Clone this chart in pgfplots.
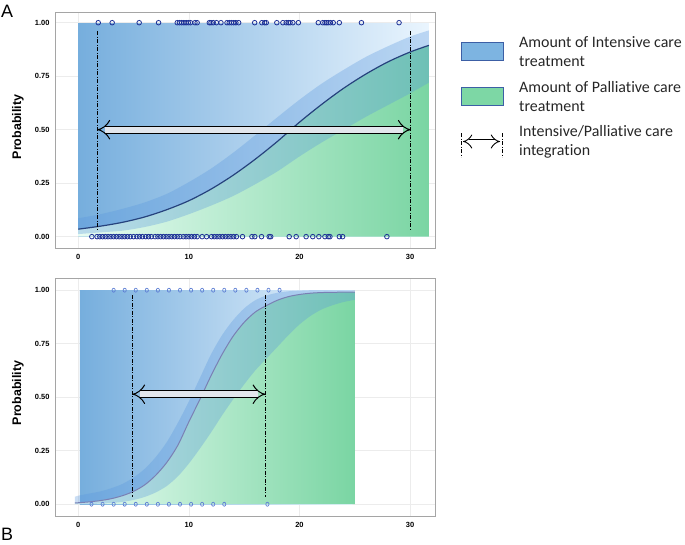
\documentclass[border=0pt]{standalone}
\usepackage{pgfplots}
\pgfplotsset{compat=1.18}
\usepackage{pgfplotstable}
\usepgfplotslibrary{fillbetween}
\usetikzlibrary{arrows.meta}
\usepackage{fontspec}
\setmainfont{Liberation Sans}
\newfontfamily\calfont[Ligatures=NoCommon]{Carlito}

\definecolor{blueL}{RGB}{118,174,221}
\definecolor{blueR}{RGB}{234,245,254}
\definecolor{greenL}{RGB}{232,252,242}
\definecolor{greenR}{RGB}{122,213,163}
\definecolor{band}{RGB}{88,150,222}
\definecolor{curveA}{RGB}{38,66,125}
\definecolor{curveB}{RGB}{122,128,180}
\definecolor{ptA}{RGB}{28,48,150}
\definecolor{ptB}{RGB}{95,128,212}
\definecolor{framec}{RGB}{165,165,165}
\definecolor{gridc}{RGB}{236,236,236}
\definecolor{arrfill}{RGB}{226,230,236}
\definecolor{legblue}{RGB}{125,180,225}
\definecolor{leggreen}{RGB}{125,215,165}
\definecolor{legedge}{RGB}{60,95,165}

% panel A: fitted probability with lower/upper bounds
\pgfplotstableread{
x     p     lo    hi
0     0.035 0.012 0.086
2     0.049 0.020 0.105
4     0.067 0.028 0.130
6     0.092 0.045 0.160
8     0.126 0.070 0.200
10    0.168 0.105 0.255
12    0.222 0.145 0.318
14    0.287 0.190 0.392
16    0.362 0.245 0.474
18    0.445 0.305 0.558
20    0.535 0.375 0.640
22    0.618 0.440 0.715
24    0.694 0.500 0.780
26    0.760 0.560 0.840
28    0.817 0.615 0.890
30    0.863 0.670 0.935
31.7  0.894 0.720 0.964
}\tabA

% panel B
\pgfplotstableread{
x     p     lo    hi
-0.3  0.006 0.000 0.035
0     0.007 0.000 0.040
1     0.011 0.001 0.050
2     0.017 0.003 0.060
3     0.026 0.006 0.075
4     0.040 0.011 0.095
5     0.060 0.020 0.125
6     0.090 0.034 0.165
7     0.135 0.055 0.220
8     0.195 0.085 0.290
9     0.275 0.130 0.380
10    0.385 0.190 0.480
11    0.490 0.260 0.590
12    0.600 0.335 0.700
13    0.700 0.415 0.790
14    0.785 0.490 0.860
15    0.850 0.560 0.915
16    0.898 0.625 0.953
17    0.928 0.680 0.975
18    0.953 0.735 0.988
19    0.970 0.790 0.995
20    0.980 0.840 0.998
21    0.986 0.880 1.000
22    0.989 0.910 1.000
23    0.990 0.930 1.000
24    0.991 0.945 1.000
25    0.991 0.955 1.000
}\tabB

\tikzset{
  fill between/on layer=main,
  vline/.style={black, line width=0.6bp,
    dash pattern=on 4bp off 1.5bp on 1bp off 1.5bp},
  dblarrow/.style={line width=1bp, double=arrfill,
    double distance=6bp, {Implies}-{Implies}},
}
\pgfplotsset{
  panel/.style={
    scale only axis, width=380bp,
    xmin=-2.1, xmax=32.25,
    axis line style={framec, line width=0.8bp},
    xtick={0,10,20,30},
    ytick={0,0.25,0.5,0.75,1},
    major tick length=0,
    grid=major, grid style={gridc, line width=0.6bp},
    /pgf/number format/assume math mode=true,
    tick label style={font=\fontsize{7.5}{9}\selectfont\bfseries},
    yticklabel style={/pgf/number format/fixed,
      /pgf/number format/fixed zerofill,
      /pgf/number format/precision=2, xshift=-2bp},
    xticklabel style={yshift=-3bp},
  },
}

\begin{document}
\begin{tikzpicture}
\path (0bp,0bp) rectangle (685bp,-545bp);

% ---------- panel A ----------
\begin{axis}[panel, at={(55bp,-248bp)}, anchor=south west,
  height=236bp, ymin=-0.053, ymax=1.05]
\addplot[draw=none, left color=blueL, right color=blueR]
  coordinates {(0,0.994) (31.7,0.994)} \closedcycle;
\addplot[draw=none, left color=greenL, right color=greenR, smooth]
  table[x=x, y=p] {\tabA} \closedcycle;
\addplot[draw=none, name path=hiA, smooth] table[x=x, y=hi] {\tabA};
\addplot[draw=none, name path=loA, smooth] table[x=x, y=lo] {\tabA};
\addplot[fill=band, fill opacity=0.32, draw=none] fill between[of=hiA and loA];
\addplot[curveA, line width=1.2bp, smooth] table[x=x, y=p] {\tabA};
\addplot[vline] coordinates {(1.72,0.96) (1.72,0.03)};
\addplot[vline] coordinates {(30.06,0.96) (30.06,0.03)};
\addplot[dblarrow] coordinates {(1.72,0.5) (30.06,0.5)};
\addplot[only marks, mark=o, mark size=2.3bp, ptA, line width=0.8bp]
  coordinates {(1.81,1) (3.07,1) (5.51,1) (7.26,1) (8.95,1) (9.15,1)
  (9.35,1) (9.55,1) (9.75,1) (9.95,1) (10.15,1) (10.55,1) (10.75,1)
  (11.85,1) (12.0,1) (12.2,1) (12.5,1) (12.9,1) (13.45,1) (13.65,1)
  (13.85,1) (14.05,1) (14.25,1) (14.5,1) (15.95,1) (16.6,1) (16.85,1)
  (17.0,1) (17.95,1) (18.5,1) (18.8,1) (19.0,1) (19.15,1) (19.4,1)
  (19.9,1) (21.7,1) (22.1,1) (22.3,1) (22.45,1) (22.6,1) (22.8,1)
  (23.05,1) (23.6,1) (25.6,1) (29.0,1)};
\addplot[only marks, mark=o, mark size=2.3bp, ptA, line width=0.8bp]
  coordinates {(1.23,0) (1.7,0) (1.95,0) (2.2,0) (2.45,0) (2.7,0)
  (2.95,0) (3.2,0) (3.45,0) (3.7,0) (3.95,0) (4.2,0) (4.45,0) (4.7,0)
  (5.0,0) (5.3,0) (5.55,0) (5.8,0) (6.1,0) (6.35,0) (6.6,0) (6.95,0)
  (7.2,0) (7.45,0) (7.7,0) (7.95,0) (8.2,0) (8.45,0) (8.7,0) (8.95,0)
  (9.2,0) (9.5,0) (9.75,0) (10.0,0) (10.25,0) (10.5,0) (10.75,0)
  (11.2,0) (11.6,0) (12.05,0) (12.3,0) (12.55,0) (12.8,0) (13.05,0)
  (13.3,0) (13.55,0) (13.8,0) (14.05,0) (14.3,0) (14.85,0) (15.7,0)
  (15.96,0) (16.57,0) (17.26,0) (17.4,0) (19.07,0) (19.7,0) (20.6,0)
  (21.2,0) (21.75,0) (22.3,0) (22.6,0) (22.75,0) (23.6,0) (23.9,0)
  (27.9,0)};
\end{axis}

% ---------- panel B ----------
\begin{axis}[panel, at={(55bp,-516bp)}, anchor=south west,
  height=238bp, ymin=-0.055, ymax=1.057]
\addplot[draw=none, left color=blueL, right color=blueR]
  coordinates {(0.15,0.997) (24.8,0.997)} \closedcycle;
\addplot[draw=none, left color=greenL, right color=greenR, smooth]
  table[x=x, y=p] {\tabB} \closedcycle;
\addplot[draw=none, name path=hiB, smooth] table[x=x, y=hi] {\tabB};
\addplot[draw=none, name path=loB, smooth] table[x=x, y=lo] {\tabB};
\addplot[fill=band, fill opacity=0.32, draw=none] fill between[of=hiB and loB];
\addplot[curveB, line width=1bp, smooth] table[x=x, y=p] {\tabB};
\addplot[vline] coordinates {(4.88,0.978) (4.88,0.036)};
\addplot[vline] coordinates {(16.93,0.978) (16.93,0.036)};
\addplot[dblarrow] coordinates {(4.88,0.514) (16.93,0.514)};
\addplot[only marks, mark=o, mark size=2bp, ptB, line width=0.7bp,
  mark options={xscale=0.8}]
  coordinates {(3.2,1) (4.2,1) (5.2,1) (6.2,1) (7.2,1) (8.2,1) (9.2,1)
  (10.2,1) (11.2,1) (12.2,1) (13.2,1) (14.2,1) (15.2,1) (16.2,1)
  (17.2,1) (18.2,1)};
\addplot[only marks, mark=o, mark size=2bp, ptB, line width=0.7bp,
  mark options={xscale=0.8}]
  coordinates {(1.2,0) (2.2,0) (3.2,0) (4.2,0) (5.2,0) (6.2,0) (7.2,0)
  (8.2,0) (9.2,0) (10.2,0) (11.2,0) (12.2,0) (13.2,0) (17.1,0)};
\end{axis}

% ---------- labels ----------
\node[rotate=90, font=\fontsize{12.5}{14}\selectfont\bfseries]
  at (18bp,-127bp) {Probability};
\node[rotate=90, font=\fontsize{12.5}{14}\selectfont\bfseries]
  at (18bp,-393bp) {Probability};
\node[anchor=base west, inner sep=0, font=\fontsize{18}{20}\selectfont]
  at (1bp,-17bp) {A};
\node[anchor=base west, inner sep=0, font=\fontsize{18}{20}\selectfont]
  at (1bp,-540bp) {B};

% ---------- legend ----------
\filldraw[fill=legblue, draw=legedge, line width=0.8bp]
  (461bp,-42bp) rectangle (503bp,-60bp);
\filldraw[fill=leggreen, draw=legedge, line width=0.8bp]
  (461bp,-87bp) rectangle (503bp,-105bp);
\draw[vline] (461bp,-133bp) -- (461bp,-157bp);
\draw[vline] (502bp,-133bp) -- (502bp,-157bp);
\draw[line width=0.9bp, double=white, double distance=4bp, {Implies}-{Implies}]
  (463bp,-141.5bp) -- (500bp,-141.5bp);
\begin{scope}[every node/.style={anchor=base west, inner sep=0,
    font=\calfont\fontsize{16}{19}\selectfont, text=black!85}]
\node at (519bp,-47bp) {Amount of Intensive care};
\node at (519bp,-66bp) {treatment};
\node at (519bp,-92bp) {Amount of Palliative care};
\node at (519bp,-111bp) {treatment};
\node at (519bp,-136bp) {Intensive/Palliative care};
\node at (519bp,-155bp) {integration};
\end{scope}
\end{tikzpicture}
\end{document}
